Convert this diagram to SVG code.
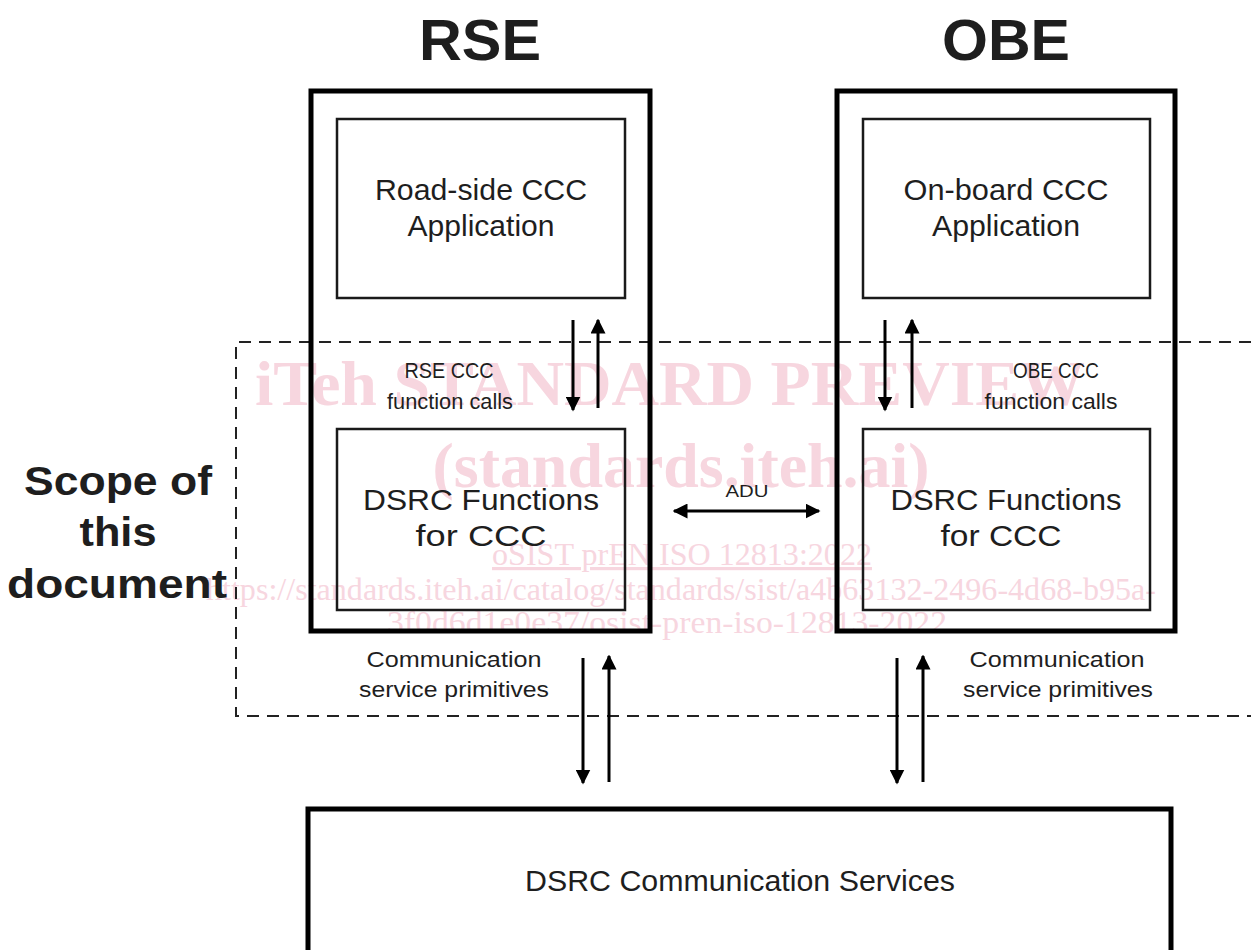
<svg xmlns="http://www.w3.org/2000/svg" width="1251" height="950" viewBox="0 0 1251 950">
<style>
.outer{fill:none;stroke:#000;stroke-width:5}
.inner{fill:none;stroke:#1a1a1a;stroke-width:2.5}
.t{font-family:"Liberation Sans",Arial,sans-serif;fill:#1e1e1e;text-anchor:middle}
.big{font-size:57px;font-weight:bold}
.scope{font-size:40px;font-weight:bold}
.lab{font-size:29px}
.small{font-size:22px}
.ln{stroke:#000;stroke-width:3;fill:none}
.wm{font-family:"Liberation Serif","Times New Roman",serif;fill:#f7d6df;text-anchor:middle}
</style>
<defs>
<marker id="ah" viewBox="0 0 10 10" refX="9" refY="5" markerWidth="5" markerHeight="5" orient="auto-start-reverse" markerUnits="strokeWidth">
<path d="M0,0 L10,5 L0,10 z" fill="#000"/>
</marker>
</defs>
<rect width="1251" height="950" fill="#fff"/>
<g id="watermark">
<text class="wm" x="670" y="405" font-size="64" font-weight="bold" textLength="830" lengthAdjust="spacingAndGlyphs">iTeh STANDARD PREVIEW</text>
<text class="wm" x="681" y="487" font-size="64" font-weight="bold" textLength="497" lengthAdjust="spacingAndGlyphs">(standards.iteh.ai)</text>
<text class="wm" x="682" y="565" font-size="32" text-decoration="underline" textLength="380" lengthAdjust="spacingAndGlyphs">oSIST prEN ISO 12813:2022</text>
<text class="wm" x="681" y="600" font-size="32" textLength="950" lengthAdjust="spacingAndGlyphs">https://standards.iteh.ai/catalog/standards/sist/a4b63132-2496-4d68-b95a-</text>
<text class="wm" x="667" y="633" font-size="32" textLength="560" lengthAdjust="spacingAndGlyphs">3f0d6d1e0e37/osist-pren-iso-12813-2022</text>
</g>
<g id="scope">
<path d="M1251,342 H236 V716 H1251" fill="none" stroke="#222" stroke-width="2" stroke-dasharray="12,8"/>
<text class="t scope" x="118" y="495" textLength="188" lengthAdjust="spacingAndGlyphs">Scope of</text>
<text class="t scope" x="118" y="546" textLength="77" lengthAdjust="spacingAndGlyphs">this</text>
<text class="t scope" x="117" y="598" textLength="220" lengthAdjust="spacingAndGlyphs">document</text>
</g>
<g id="rse">
<text class="t big" x="480" y="60" textLength="122" lengthAdjust="spacingAndGlyphs">RSE</text>
<rect class="outer" x="311" y="91" width="339" height="540"/>
</g>
<g id="rse-app">
<rect class="inner" x="337" y="119" width="288" height="179"/>
<text class="t lab" x="481" y="200" textLength="212" lengthAdjust="spacingAndGlyphs">Road-side CCC</text>
<text class="t lab" x="481" y="236" textLength="147" lengthAdjust="spacingAndGlyphs">Application</text>
</g>
<g id="rse-dsrc">
<rect class="inner" x="337" y="429" width="288" height="181"/>
<text class="t lab" x="481" y="510" textLength="236" lengthAdjust="spacingAndGlyphs">DSRC Functions</text>
<text class="t lab" x="481" y="546" textLength="131" lengthAdjust="spacingAndGlyphs">for CCC</text>
</g>
<g id="obe">
<text class="t big" x="1006" y="60" textLength="128" lengthAdjust="spacingAndGlyphs">OBE</text>
<rect class="outer" x="837" y="91" width="338" height="540"/>
</g>
<g id="obe-app">
<rect class="inner" x="863" y="119" width="287" height="179"/>
<text class="t lab" x="1006" y="200" textLength="205" lengthAdjust="spacingAndGlyphs">On-board CCC</text>
<text class="t lab" x="1006" y="236" textLength="148" lengthAdjust="spacingAndGlyphs">Application</text>
</g>
<g id="obe-dsrc">
<rect class="inner" x="863" y="429" width="287" height="181"/>
<text class="t lab" x="1006" y="510" textLength="231" lengthAdjust="spacingAndGlyphs">DSRC Functions</text>
<text class="t lab" x="1001" y="546" textLength="121" lengthAdjust="spacingAndGlyphs">for CCC</text>
</g>
<g id="comm">
<rect class="outer" x="308" y="809" width="863" height="160"/>
<text class="t lab" x="740" y="891" textLength="430" lengthAdjust="spacingAndGlyphs">DSRC Communication Services</text>
</g>
<g id="connectors">
<line class="ln" x1="573" y1="320" x2="573" y2="410" marker-end="url(#ah)"/>
<line class="ln" x1="598" y1="408" x2="598" y2="320" marker-end="url(#ah)"/>
<line class="ln" x1="885" y1="320" x2="885" y2="410" marker-end="url(#ah)"/>
<line class="ln" x1="912" y1="408" x2="912" y2="320" marker-end="url(#ah)"/>
<line class="ln" x1="583" y1="658" x2="583" y2="783" marker-end="url(#ah)"/>
<line class="ln" x1="609" y1="782" x2="609" y2="656" marker-end="url(#ah)"/>
<line class="ln" x1="897" y1="658" x2="897" y2="783" marker-end="url(#ah)"/>
<line class="ln" x1="923" y1="782" x2="923" y2="656" marker-end="url(#ah)"/>
<line class="ln" x1="674" y1="511" x2="819" y2="511" marker-start="url(#ah)" marker-end="url(#ah)"/>
<text class="t" x="747" y="497" font-size="17" textLength="43" lengthAdjust="spacingAndGlyphs">ADU</text>
<text class="t small" x="449" y="378" textLength="89" lengthAdjust="spacingAndGlyphs">RSE CCC</text>
<text class="t small" x="450" y="409" textLength="126" lengthAdjust="spacingAndGlyphs">function calls</text>
<text class="t small" x="1056" y="378" textLength="86" lengthAdjust="spacingAndGlyphs">OBE CCC</text>
<text class="t small" x="1051" y="409" textLength="133" lengthAdjust="spacingAndGlyphs">function calls</text>
<text class="t small" x="454" y="667" textLength="175" lengthAdjust="spacingAndGlyphs">Communication</text>
<text class="t small" x="454" y="697" textLength="190" lengthAdjust="spacingAndGlyphs">service primitives</text>
<text class="t small" x="1057" y="667" textLength="175" lengthAdjust="spacingAndGlyphs">Communication</text>
<text class="t small" x="1058" y="697" textLength="190" lengthAdjust="spacingAndGlyphs">service primitives</text>
</g>
</svg>
